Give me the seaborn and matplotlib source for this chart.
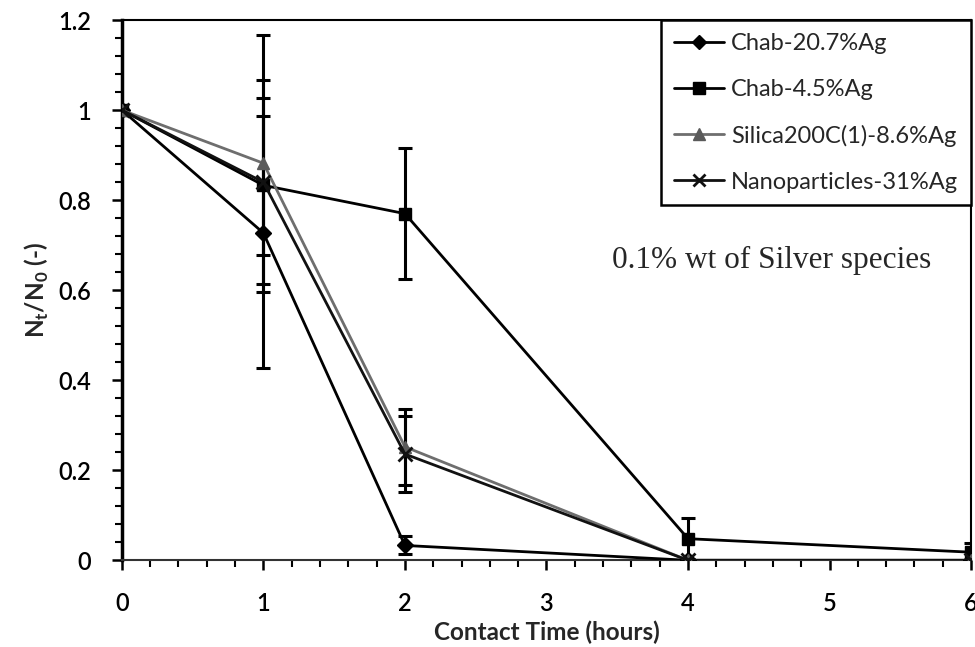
import matplotlib
matplotlib.use("Agg")
import matplotlib.pyplot as plt
from matplotlib.ticker import MultipleLocator
from matplotlib.lines import Line2D
import seaborn as sns
import pandas as pd

# Contact time (hours) and surviving fraction N_t/N_0 for each silver material
time_h = [0, 1, 2, 4, 6]

series_names = ["Chab-20.7%Ag", "Chab-4.5%Ag", "Silica200C(1)-8.6%Ag", "Nanoparticles-31%Ag"]

chab_207 = [1.0, 0.727, 0.033, 0.0, 0.0]
chab_207_err = [0.0, 0.30, 0.02, 0.0, 0.0]

chab_45 = [1.0, 0.833, 0.770, 0.048, 0.018]
chab_45_err = [0.0, 0.154, 0.145, 0.045, 0.02]

silica = [1.0, 0.882, 0.252, 0.0, 0.0]
silica_err = [0.0, 0.285, 0.085, 0.0, 0.0]

nano = [1.0, 0.840, 0.236, 0.0, 0.0]
nano_err = [0.0, 0.227, 0.084, 0.0, 0.0]

annotation = "0.1% wt of Silver species"

values = [chab_207, chab_45, silica, nano]
errors = [chab_207_err, chab_45_err, silica_err, nano_err]
markers = ["D", "s", "^", "x"]
marker_sizes = [8, 9, 9, 10]
line_colors = ["#000000", "#000000", "#6e6e6e", "#111111"]
marker_colors = ["#000000", "#000000", "#5a5a5a", "#111111"]

sns.set_theme(style="ticks")
plt.rcParams["font.family"] = ["Lato", "DejaVu Sans"]
plt.rcParams["mathtext.fontset"] = "custom"
plt.rcParams["mathtext.rm"] = "Lato"
plt.rcParams["mathtext.bf"] = "Lato:bold"

fig = plt.figure(figsize=(9.75, 6.47), dpi=100)
ax = fig.add_axes([0.125, 0.134, 0.871, 0.835])

for name, vals, errs, mk, ms, lc, mc in zip(series_names, values, errors, markers,
                                             marker_sizes, line_colors, marker_colors):
    sub = pd.DataFrame({"time": time_h, "ratio": vals, "err": errs})
    # error bars under the line and markers
    ax.errorbar(sub["time"], sub["ratio"], yerr=sub["err"], fmt="none",
                ecolor="black", elinewidth=2.2, capsize=5, capthick=2.2, zorder=2)
    sns.lineplot(data=sub, x="time", y="ratio", color=lc, marker=mk, markersize=ms,
                 markerfacecolor=mc, markeredgecolor=mc,
                 markeredgewidth=2.0 if mk == "x" else 1.0,
                 linewidth=2.0, ax=ax, zorder=3, errorbar=None)

ax.set_xlim(0, 6)
ax.set_ylim(0, 1.2)
ax.xaxis.set_major_locator(MultipleLocator(1))
ax.xaxis.set_minor_locator(MultipleLocator(0.2))
ax.yaxis.set_minor_locator(MultipleLocator(0.04))
ax.set_yticks([0, 0.2, 0.4, 0.6, 0.8, 1.0, 1.2], ["0", "0.2", "0.4", "0.6", "0.8", "1", "1.2"])

ax.tick_params(axis="both", which="major", direction="out", length=7, width=1.8,
               labelsize=17, colors="black")
ax.tick_params(axis="both", which="minor", direction="out", length=5, width=1.5, colors="black")
ax.tick_params(axis="x", which="major", pad=16)
ax.tick_params(axis="y", which="major", pad=15)
for lbl in ax.get_xticklabels() + ax.get_yticklabels():
    lbl.set_fontweight("semibold")

for side in ["top", "right"]:
    ax.spines[side].set_visible(True)
    ax.spines[side].set_linewidth(1.5)
    ax.spines[side].set_color("black")
ax.spines["left"].set_linewidth(2.5)
ax.spines["left"].set_color("black")
ax.spines["bottom"].set_linewidth(1.5)
ax.spines["bottom"].set_color("#333333")

ax.set_xlabel("Contact Time (hours)", fontsize=17.5, fontweight="bold", labelpad=4)
ax.set_ylabel(r"N$_{\mathbf{t}}$/N$_{\mathbf{0}}$ (-)", fontsize=17.5, fontweight="bold", labelpad=5)

handles = [Line2D([], [], color=lc, marker=mk, markersize=ms * 0.9, markerfacecolor=mc,
                  markeredgecolor=mc, markeredgewidth=2.0 if mk == "x" else 1.0, linewidth=2.0)
           for lc, mk, ms, mc in zip(line_colors, markers, marker_sizes, marker_colors)]
leg = ax.legend(handles, series_names, loc="upper right", borderaxespad=0, fontsize=17,
                frameon=True, fancybox=False, edgecolor="black", framealpha=1,
                handlelength=2.1, handletextpad=0.3, labelspacing=1.05,
                borderpad=0.55)
leg.get_frame().set_linewidth(1.8)

ax.text(4.59, 0.667, annotation, fontsize=22.5, family="Liberation Serif",
        ha="center", va="center")

fig.savefig("out.png", dpi=100)
